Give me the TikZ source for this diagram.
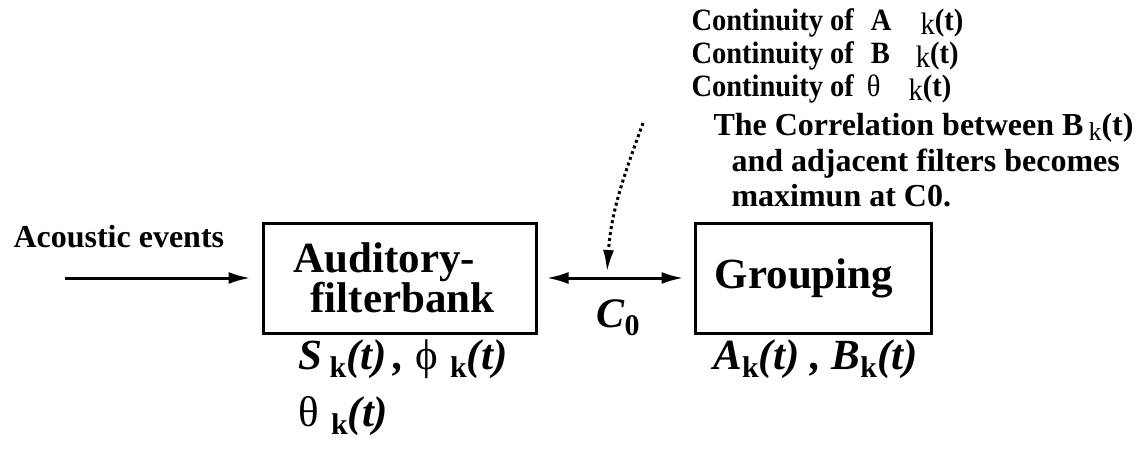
\documentclass[tikz,border=0pt]{standalone}
\usepackage{fontspec}
\setmainfont{Liberation Serif}
\newfontfamily\narrowfont[FakeStretch=0.92]{Liberation Serif}
\usetikzlibrary{arrows.meta}

% lowered bold subscript and regular index
\newcommand{\bsub}[1]{\raisebox{-0.45ex}{\upshape\bfseries\fontsize{15}{15}\selectfont #1}}
\newcommand{\rsub}[1]{\raisebox{-0.25ex}{\mdseries\upshape #1}}

\begin{document}
\begin{tikzpicture}[>={Latex[length=11pt,width=6pt]}, x=0.5pt, y=-0.5pt, line width=1.5pt]
    \tikzset{blockbox/.style={draw, inner sep=0pt, font=\bfseries\fontsize{21.5}{20}\selectfont, align=left},
             symlabel/.style={anchor=base west, inner sep=0pt, font=\bfseries\itshape\fontsize{21.5}{22}\selectfont},
             condline/.style={anchor=base west, inner sep=0pt, font=\narrowfont\bfseries\fontsize{15.5}{16}\selectfont},
             noteline/.style={anchor=base west, inner sep=0pt, font=\bfseries\fontsize{16}{18}\selectfont}}
    \useasboundingbox (0,0) rectangle (1136,465);

    % Blocks
    \node[blockbox, minimum width=136.5pt, minimum height=55pt] (afb) at (399.5,278)
        {Auditory-\\\hspace*{8.5pt}filterbank\hspace*{5.5pt}};
    \node[blockbox, minimum width=118pt, minimum height=55pt] (grp) at (813,278) {Grouping\hspace*{9pt}};

    % Input
    \node[anchor=base west, inner sep=0pt, font=\bfseries\fontsize{16}{18}\selectfont] (acoustic) at (12,248) {Acoustic events};
    \coordinate (in) at (65,278);
    \draw[->, shorten >=5.5pt] (in) -- (afb.west);

    % Link between the blocks
    \draw[<->, shorten <=4.5pt, shorten >=5pt] (afb.east) -- (grp.west);
    \node[anchor=base west, inner sep=0pt, font=\bfseries\itshape\fontsize{21}{22}\selectfont] (c0) at (595,327) {C\bsub{0}};

    % Conditions
    \node[condline] (cond1) at (690,31) {Continuity of\hspace{8.5pt}A\hspace{14.5pt}\rsub{k}(t)};
    \node[condline] (cond2) at (690,64) {Continuity of\hspace{8.5pt}B\hspace{13pt}\rsub{k}(t)};
    \node[condline] (cond3) at (690,97) {Continuity of\hspace{6.5pt}\mdseries θ\hspace{14pt}\rsub{k}\bfseries(t)};
    \node[noteline] (note1) at (712,136) {The Correlation between B\hspace{2.5pt}\raisebox{-0.3ex}{\mdseries\fontsize{13}{13}\selectfont k}(t)};
    \node[noteline] (note2) at (730,171) {and adjacent filters becomes};
    \node[noteline] (note3) at (730,206) {maximun at C0.};
    \coordinate (hint) at (643,123);
    \coordinate (hit) at (607,272);
    \draw[-{Latex[length=11pt,width=5.5pt]}, dash pattern=on 1.5pt off 1.5pt] (hint) to[out=-110, in=86] (hit);

    % Signals
    \node[symlabel] (sphi) at (297,369) {S\,\bsub{k}(t)\,, \mdseries\upshape ϕ\;\bsub{k}\bfseries\itshape(t)};
    \node[symlabel] (theta) at (297,426) {\mdseries\upshape θ\;\bsub{k}\bfseries\itshape(t)};
    \node[symlabel] (ab) at (712,369) {A\bsub{k}(t) , B\bsub{k}(t)};
\end{tikzpicture}
\end{document}
